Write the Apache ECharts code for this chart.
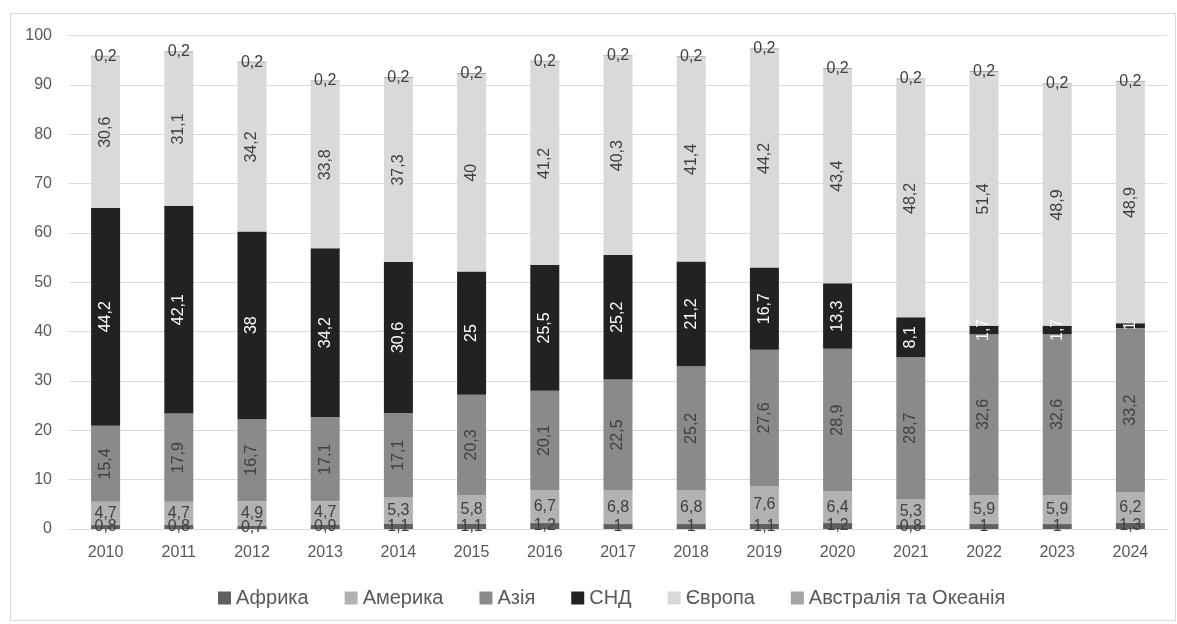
<!DOCTYPE html>
<html>
<head>
<meta charset="utf-8">
<script src="https://cdn.jsdelivr.net/npm/echarts@6/dist/echarts.min.js"></script>
<style>
  html, body { margin: 0; padding: 0; background: #fff; }
  #frame { position: absolute; left: 10px; top: 13px; width: 1164px; height: 606px; border: 1px solid #d9d9d9; }
  #chart { position: absolute; left: 0; top: 0; width: 1177px; height: 624px; }
</style>
</head>
<body>
<div id="frame"></div>
<div id="chart"></div>
<script>
const years = ['2010','2011','2012','2013','2014','2015','2016','2017','2018','2019','2020','2021','2022','2023','2024'];
const africa    = [0.8, 0.8, 0.7, 0.9, 1.1, 1.1, 1.2, 1, 1, 1.1, 1.2, 0.8, 1, 1, 1.3];
const america   = [4.7, 4.7, 4.9, 4.7, 5.3, 5.8, 6.7, 6.8, 6.8, 7.6, 6.4, 5.3, 5.9, 5.9, 6.2];
const asia      = [15.4, 17.9, 16.7, 17.1, 17.1, 20.3, 20.1, 22.5, 25.2, 27.6, 28.9, 28.7, 32.6, 32.6, 33.2];
const cis       = [44.2, 42.1, 38, 34.2, 30.6, 25, 25.5, 25.2, 21.2, 16.7, 13.3, 8.1, 1.7, 1.7, 1];
const europe    = [30.6, 31.1, 34.2, 33.8, 37.3, 40, 41.2, 40.3, 41.4, 44.2, 43.4, 48.2, 51.4, 48.9, 48.9];
const australia = [0.2, 0.2, 0.2, 0.2, 0.2, 0.2, 0.2, 0.2, 0.2, 0.2, 0.2, 0.2, 0.2, 0.2, 0.2];
const yTicks = [0, 10, 20, 30, 40, 50, 60, 70, 80, 90, 100];

const FONT = '"Liberation Sans", Arial, sans-serif';
const fmt = p => String(p.value).replace('.', ',');

function series(name, data, color, labelColor, rotate) {
  return {
    name, type: 'bar', stack: 'total', data, barWidth: 29,
    itemStyle: { color },
    label: {
      show: true, position: 'inside', formatter: fmt,
      color: labelColor, fontFamily: FONT, fontSize: 16,
      rotate: rotate ? 90 : 0
    },
    labelLayout: { hideOverlap: false }
  };
}

const chart = echarts.init(document.getElementById('chart'), null, { renderer: 'canvas' });
chart.setOption({
  animation: false,
  textStyle: { fontFamily: FONT },
  grid: { left: 69, right: 10, top: 35.5, bottom: 95, containLabel: false },
  xAxis: {
    type: 'category', data: years,
    axisLine: { lineStyle: { color: '#d9d9d9' } },
    axisTick: { show: false },
    axisLabel: { color: '#595959', fontSize: 16, margin: 16, fontFamily: FONT }
  },
  yAxis: {
    type: 'value', min: yTicks[0], max: yTicks[yTicks.length - 1], interval: 10,
    axisLine: { show: false }, axisTick: { show: false },
    splitLine: { lineStyle: { color: '#d9d9d9', width: 1 } },
    axisLabel: { color: '#595959', fontSize: 16, margin: 17, fontFamily: FONT }
  },
  legend: {
    bottom: 11, left: 213, itemWidth: 13, itemHeight: 13, itemGap: 36,
    icon: 'rect',
    textStyle: { color: '#595959', fontSize: 20, fontFamily: FONT },
    data: ['Африка', 'Америка', 'Азія', 'СНД', 'Європа', 'Австралія та Океанія']
  },
  series: [
    series('Африка', africa, '#5f5f5f', '#404040', false),
    series('Америка', america, '#b2b2b2', '#404040', false),
    series('Азія', asia, '#8a8a8a', '#404040', true),
    series('СНД', cis, '#222222', '#ffffff', true),
    series('Європа', europe, '#d9d9d9', '#404040', true),
    series('Австралія та Океанія', australia, '#a5a5a5', '#404040', false)
  ]
});
</script>
</body>
</html>
